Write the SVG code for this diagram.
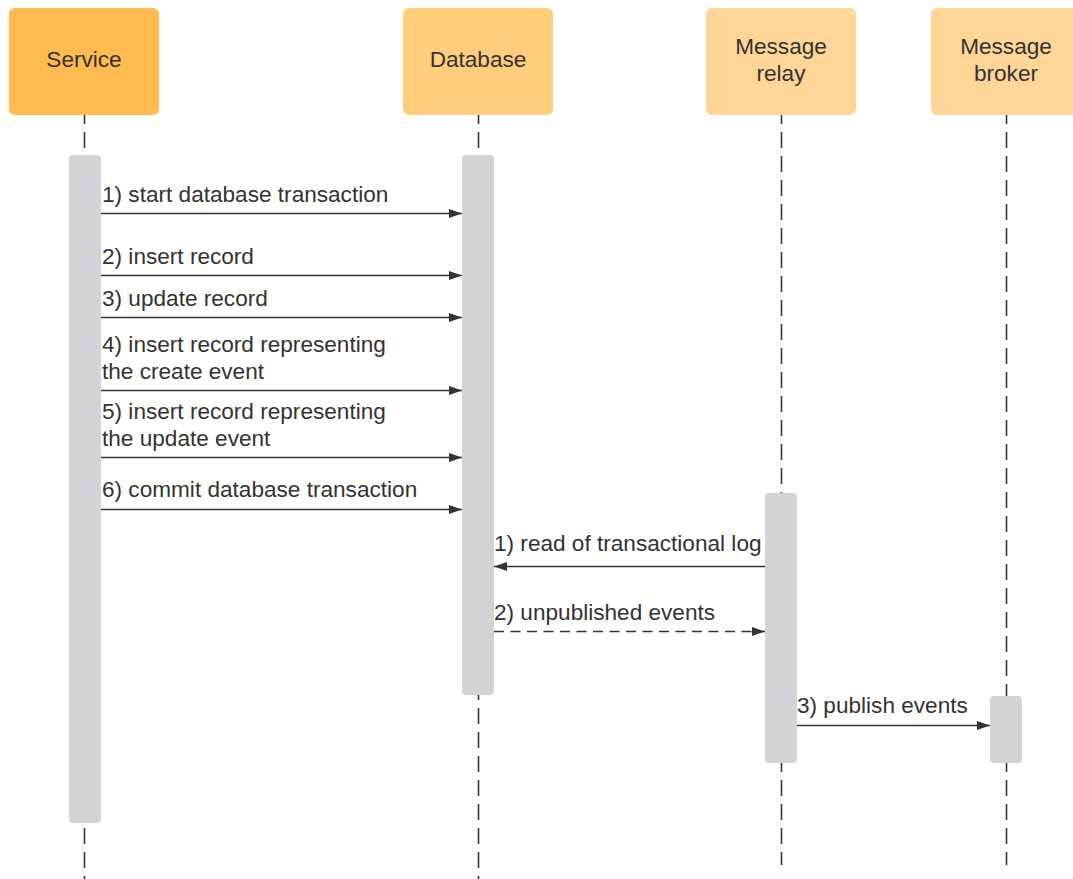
<svg xmlns="http://www.w3.org/2000/svg" width="1073" height="879" viewBox="0 0 1073 879">
  <style>
    text { font-family: "Liberation Sans", Arial, sans-serif; font-size: 22.6px; fill: #333333; }
    .hdr { text-anchor: middle; }
    .life { stroke: #333333; stroke-width: 1.6; stroke-dasharray: 16 8; fill: none; }
    .act { fill: #D1D3D6; }
    .msg { stroke: #333333; stroke-width: 1.6; fill: none; marker-end: url(#head); }
    .ret { stroke-dasharray: 10 6.5; }
  </style>
  <defs>
    <marker id="head" markerUnits="userSpaceOnUse" markerWidth="14" markerHeight="10" refX="13" refY="4.5" orient="auto">
      <path d="M0,0 L13,4.5 L0,9 Z" fill="#333333"/>
    </marker>
  </defs>
  <rect width="1073" height="879" fill="#FFFFFF"/>

  <!-- lifelines -->
  <g id="lifelines">
    <line class="life" x1="84.5" y1="115" x2="84.5" y2="879" stroke-dashoffset="7"/>
    <line class="life" x1="478.5" y1="115" x2="478.5" y2="879" stroke-dashoffset="7"/>
    <line class="life" x1="781.5" y1="115" x2="781.5" y2="865" stroke-dashoffset="7"/>
    <line class="life" x1="1006.5" y1="115" x2="1006.5" y2="865" stroke-dashoffset="7"/>
  </g>

  <!-- participants -->
  <g id="service">
    <rect x="9" y="8" width="150" height="107" rx="6" fill="#FFBB4F"/>
    <text class="hdr" x="84" y="66.5">Service</text>
    <rect class="act" x="69" y="155" width="32" height="668" rx="4"/>
  </g>
  <g id="database">
    <rect x="403" y="8" width="150" height="107" rx="6" fill="#FFCD7B"/>
    <text class="hdr" x="478" y="66.5">Database</text>
    <rect class="act" x="462" y="155" width="32" height="540" rx="4"/>
  </g>
  <g id="message-relay">
    <rect x="706" y="8" width="150" height="107" rx="6" fill="#FFD697"/>
    <text class="hdr" x="781" y="53.5">Message</text>
    <text class="hdr" x="781" y="80.5">relay</text>
    <rect class="act" x="765" y="493" width="32" height="270" rx="4"/>
  </g>
  <g id="message-broker">
    <rect x="931" y="8" width="150" height="107" rx="6" fill="#FFD697"/>
    <text class="hdr" x="1006" y="53.5">Message</text>
    <text class="hdr" x="1006" y="80.5">broker</text>
    <rect class="act" x="990" y="696" width="32" height="67" rx="4"/>
  </g>

  <!-- messages -->
  <g id="connectors">
    <line class="msg" x1="101" y1="213.5" x2="462" y2="213.5"/>
    <line class="msg" x1="101" y1="275.5" x2="462" y2="275.5"/>
    <line class="msg" x1="101" y1="317.5" x2="462" y2="317.5"/>
    <line class="msg" x1="101" y1="390.5" x2="462" y2="390.5"/>
    <line class="msg" x1="101" y1="457.5" x2="462" y2="457.5"/>
    <line class="msg" x1="101" y1="509.5" x2="462" y2="509.5"/>
    <line class="msg" x1="765" y1="566.5" x2="494" y2="566.5"/>
    <line class="msg ret" x1="494" y1="631.5" x2="765" y2="631.5"/>
    <line class="msg" x1="797" y1="725.5" x2="990" y2="725.5"/>
  </g>

  <!-- message labels -->
  <g id="labels">
    <text x="102" y="201.5">1) start database transaction</text>
    <text x="102" y="263.5">2) insert record</text>
    <text x="102" y="305.5">3) update record</text>
    <text x="102" y="351.5">4) insert record representing</text>
    <text x="102" y="378.5">the create event</text>
    <text x="102" y="418.5">5) insert record representing</text>
    <text x="102" y="445.5">the update event</text>
    <text x="102" y="496.5">6) commit database transaction</text>
    <text x="494" y="550.5">1) read of transactional log</text>
    <text x="494" y="619.5">2) unpublished events</text>
    <text x="797" y="712.5">3) publish events</text>
  </g>
</svg>
